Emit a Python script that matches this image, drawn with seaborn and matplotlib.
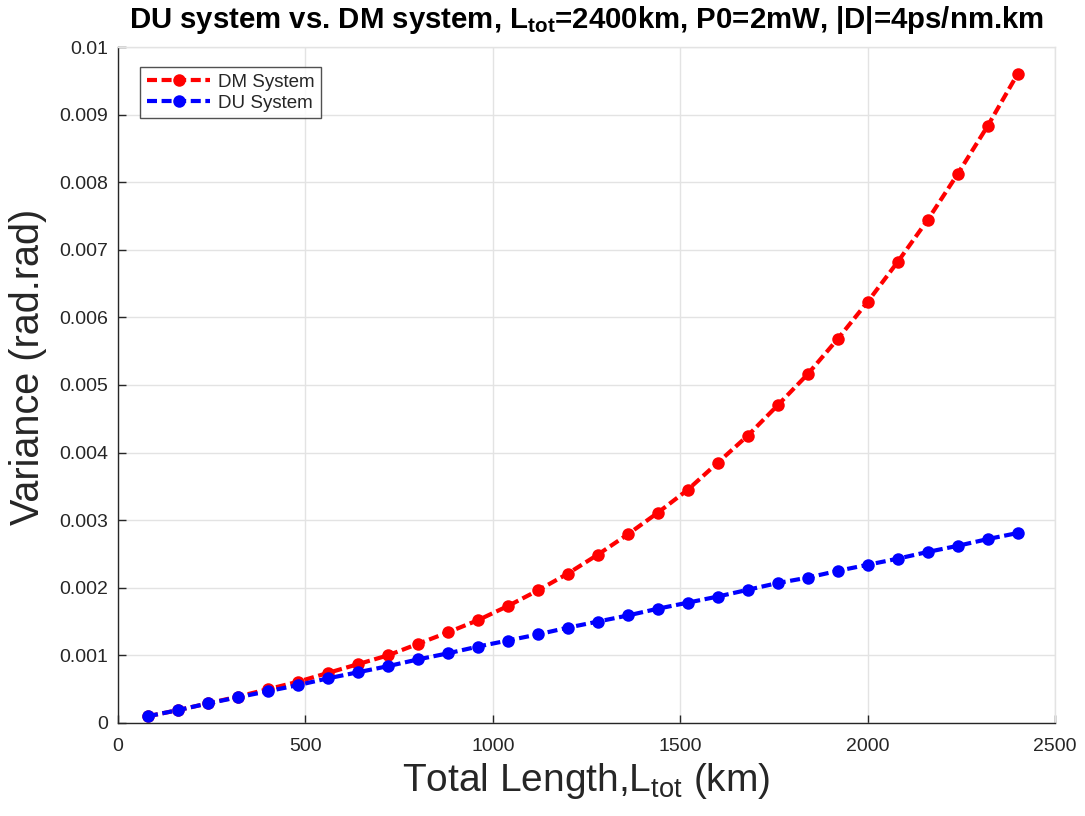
import numpy as np
import pandas as pd
import matplotlib
matplotlib.use('Agg')
import matplotlib.pyplot as plt
from matplotlib.ticker import FuncFormatter
import seaborn as sns

# Total length (km), sampled every 80 km
length_km = [80, 160, 240, 320, 400, 480, 560, 640, 720, 800,
             880, 960, 1040, 1120, 1200, 1280, 1360, 1440, 1520, 1600,
             1680, 1760, 1840, 1920, 2000, 2080, 2160, 2240, 2320, 2400]

# Variance of the DM system (rad.rad)
var_dm = [0.00010, 0.00019, 0.00029, 0.00039, 0.00050, 0.00061, 0.00074, 0.00087, 0.00100, 0.00117,
          0.00134, 0.00152, 0.00173, 0.00196, 0.00221, 0.00249, 0.00279, 0.00311, 0.00345, 0.00385,
          0.00425, 0.00470, 0.00516, 0.00568, 0.00623, 0.00682, 0.00744, 0.00812, 0.00883, 0.00960]

# Variance of the DU system (rad.rad)
var_du = [0.00010, 0.00019, 0.00029, 0.00038, 0.00047, 0.00056, 0.00066, 0.00075, 0.00084, 0.00094,
          0.00103, 0.00113, 0.00122, 0.00131, 0.00141, 0.00150, 0.00159, 0.00169, 0.00178, 0.00187,
          0.00197, 0.00207, 0.00215, 0.00225, 0.00234, 0.00243, 0.00253, 0.00262, 0.00272, 0.00281]

series_names = ['DM System', 'DU System']
series_colors = ['#ff0000', '#0000ff']

df = pd.concat([
    pd.DataFrame({'length': length_km, 'variance': var_dm, 'system': series_names[0]}),
    pd.DataFrame({'length': length_km, 'variance': var_du, 'system': series_names[1]}),
])

sns.set_style('whitegrid')
plt.rcParams['font.family'] = ['Liberation Sans', 'DejaVu Sans']
plt.rcParams['mathtext.fontset'] = 'custom'
plt.rcParams['mathtext.rm'] = 'Liberation Sans'
plt.rcParams['mathtext.bf'] = 'Liberation Sans:bold'

fig = plt.figure(figsize=(10.85, 8.16), dpi=100)
ax = fig.add_axes([0.1088, 0.114, 0.8636, 0.8284])

sns.lineplot(data=df, x='length', y='variance', hue='system',
             palette=dict(zip(series_names, series_colors)),
             marker='o', markersize=9, markeredgewidth=0, linewidth=3,
             dashes=False, ax=ax)
dash = (0, (2.4, 1.1))
for line in ax.get_lines():
    line.set_linestyle(dash)

ax.set_xlim(0, 2500)
ax.set_ylim(0, 0.01)
ax.set_xticks(np.arange(0, 2501, 500))
ax.set_yticks(np.arange(0, 0.01001, 0.001))
ax.yaxis.set_major_formatter(FuncFormatter(lambda v, p: '%g' % round(v, 4)))

ax.grid(True, color='#e3e3e3', linewidth=1)
ax.tick_params(direction='in', length=6, width=1, colors='#262626',
               labelsize=14, left=True, bottom=True)
ax.tick_params(axis='x', pad=11)
ax.tick_params(axis='y', pad=7)
for side in ['left', 'bottom']:
    ax.spines[side].set_color('#262626')
    ax.spines[side].set_linewidth(1)
for side in ['top', 'right']:
    ax.spines[side].set_color('#e3e3e3')
    ax.spines[side].set_linewidth(1)

ax.set_xlabel('Total Length,L$_{\\rm tot}$ (km)', fontsize=28, color='#262626', labelpad=4)
ax.set_ylabel('Variance (rad.rad)', fontsize=28.5, color='#262626', labelpad=8)
ax.yaxis.set_label_coords(-0.076, 0.527)
ax.set_title('DU system vs. DM system, L$_{\\bf tot}$=2400km, P0=2mW, |D|=4ps/nm.km',
             fontsize=21.2, fontweight='bold', color='black', pad=14)

leg = ax.legend(loc='upper left', bbox_to_anchor=(0.0235, 0.970), fontsize=13.5,
                frameon=True, fancybox=False, edgecolor='#262626',
                handlelength=3.4, handletextpad=0.4, borderpad=0.35,
                labelspacing=0.2, borderaxespad=0)
leg.get_frame().set_linewidth(1)
for h in leg.get_lines():
    h.set_linestyle(dash)

fig.savefig('out.png', dpi=100)
